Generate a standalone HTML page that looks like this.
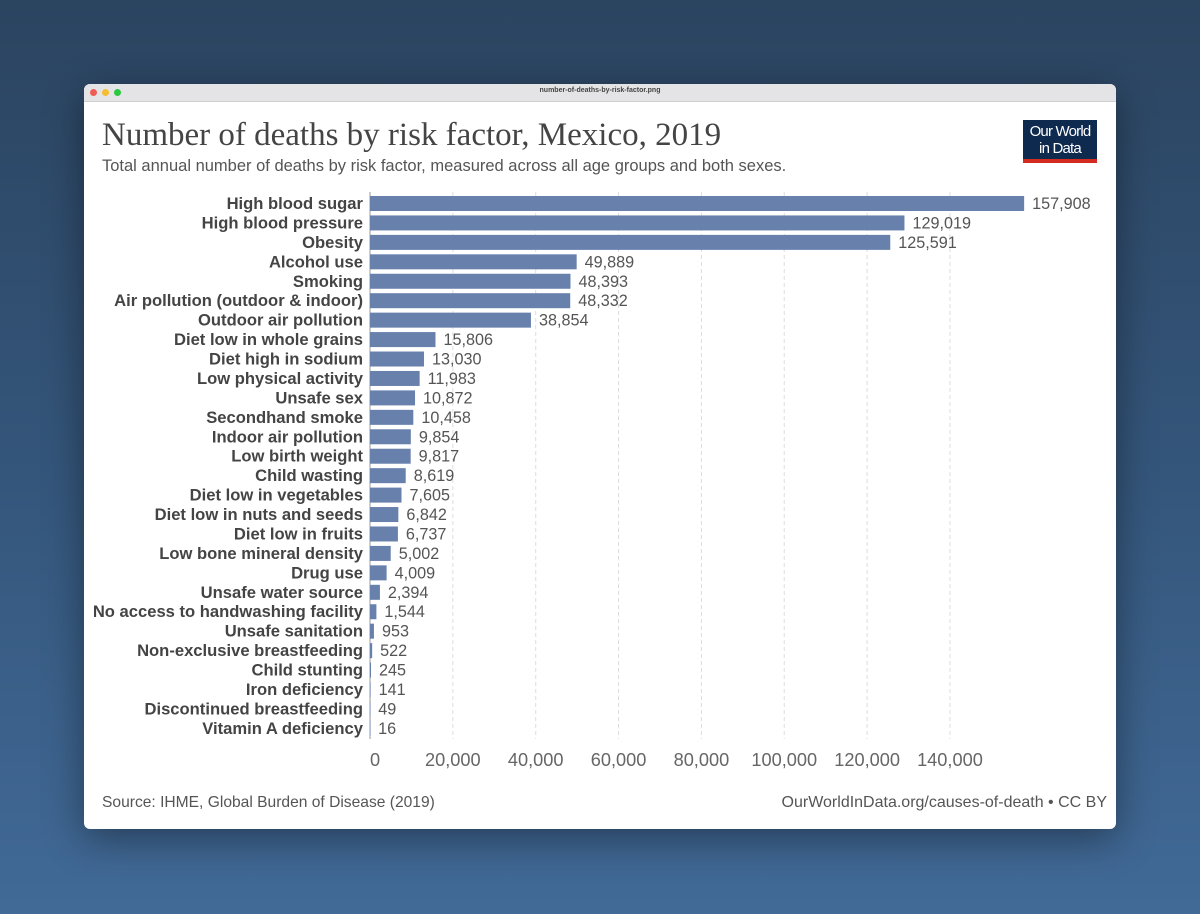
<!DOCTYPE html>
<html><head><meta charset="utf-8"><style>
html,body{margin:0;padding:0}
body{width:1200px;height:914px;overflow:hidden;background:linear-gradient(180deg,#2b4460 0%,#34557a 50%,#416a97 100%);font-family:"Liberation Sans",sans-serif;position:relative}
#win{position:absolute;left:84px;top:84px;width:1032px;height:745px;background:#fff;border-radius:6px;overflow:hidden;box-shadow:0 10px 40px rgba(0,0,0,.4)}
#bar{height:17px;background:#e4e4e6;border-bottom:1px solid #d0d0d0;position:relative}
.dot{position:absolute;top:5px;width:7px;height:7px;border-radius:50%}
#fname{position:absolute;left:0;right:0;top:3px;text-align:center;font-size:7px;color:#444;font-weight:bold}
#title{position:absolute;left:18px;top:33px;font-family:"Liberation Serif",serif;font-size:33px;color:#444}
#sub{position:absolute;left:18px;top:73px;font-size:16.5px;color:#555}
#logo{position:absolute;left:939px;top:36px;width:74px;height:43px;background:#0f2a4f;color:#fff;font-size:15px;line-height:17px;text-align:center;box-sizing:border-box;padding-top:3px;letter-spacing:-.8px;border-bottom:4px solid #d42b21}
#src{position:absolute;left:18px;top:710px;font-size:15.6px;color:#555}
#url{position:absolute;right:9px;top:710px;font-size:16px;color:#555}
svg{position:absolute;left:0;top:0}
</style></head><body>
<div id="win">
<div id="bar">
<div class="dot" style="left:6px;background:#ee5c54"></div>
<div class="dot" style="left:18px;background:#f6be2f"></div>
<div class="dot" style="left:30px;background:#2bc840"></div>
<div id="fname">number-of-deaths-by-risk-factor.png</div>
</div>
<div id="title">Number of deaths by risk factor, Mexico, 2019</div>
<div id="sub">Total annual number of deaths by risk factor, measured across all age groups and both sexes.</div>
<div id="logo">Our World<br>in Data</div>
<svg id="chart" width="1032" height="745"></svg>
<div id="src">Source: IHME, Global Burden of Disease (2019)</div>
<div id="url">OurWorldInData.org/causes-of-death • CC BY</div>
</div>
<script>
const categories=["High blood sugar","High blood pressure","Obesity","Alcohol use","Smoking","Air pollution (outdoor & indoor)","Outdoor air pollution","Diet low in whole grains","Diet high in sodium","Low physical activity","Unsafe sex","Secondhand smoke","Indoor air pollution","Low birth weight","Child wasting","Diet low in vegetables","Diet low in nuts and seeds","Diet low in fruits","Low bone mineral density","Drug use","Unsafe water source","No access to handwashing facility","Unsafe sanitation","Non-exclusive breastfeeding","Child stunting","Iron deficiency","Discontinued breastfeeding","Vitamin A deficiency"];
const values=[157908,129019,125591,49889,48393,48332,38854,15806,13030,11983,10872,10458,9854,9817,8619,7605,6842,6737,5002,4009,2394,1544,953,522,245,141,49,16];
const ticks=[0,20000,40000,60000,80000,100000,120000,140000];
const svg=document.getElementById('chart');
const NS='http://www.w3.org/2000/svg';
const x0=286, pxPer=82.85/20000;
const xs=v=>x0+v*pxPer;
const ys=i=>112+i*19.44;
function mk(t,a,txt){const e=document.createElementNS(NS,t);for(const k in a)e.setAttribute(k,a[k]);if(txt!=null)e.textContent=txt;svg.appendChild(e);return e;}
ticks.forEach((t,i)=>{
 if(i>0){const g=mk('line',{x1:xs(t),x2:xs(t),y1:108,y2:655,stroke:'#ddd','stroke-dasharray':'4,3'});
 
 }
 const l=mk('text',{x:xs(t)+(i==0?5:0),y:682,'text-anchor':'middle','font-size':18.2,fill:'#666','font-family':'Liberation Sans'},t.toLocaleString('en-US'));
 
 
});
const ax=mk('line',{x1:x0,x2:x0,y1:108,y2:655,stroke:'#999'});


categories.forEach((c,i)=>{
 const y=ys(i);
 const r=mk('rect',{x:x0,y:y,width:Math.max(values[i]*pxPer,0.5),height:15,fill:'#6780ac'});
 
 
 const lb=mk('text',{x:279,y:y+13,'text-anchor':'end','font-size':16.6,'font-weight':'bold',fill:'#444','font-family':'Liberation Sans'},c);
 
 
 const v=mk('text',{x:xs(values[i])+8,y:y+13,'font-size':16.2,fill:'#555','font-family':'Liberation Sans'},values[i].toLocaleString('en-US'));
 
 
});
</script>
</body></html>
